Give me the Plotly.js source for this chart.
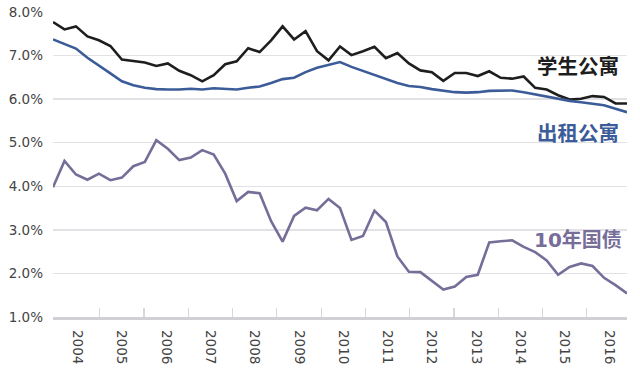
<!DOCTYPE html>
<html>
<head>
<meta charset="utf-8">
<script src="https://cdn.plot.ly/plotly-3.0.1.min.js"></script>
<style>html,body{margin:0;padding:0;background:#fff;}#chart{width:640px;height:373px;}</style>
</head>
<body>
<div id="chart"></div>
<script>
// Year tick labels
const years = ['2004','2005','2006','2007','2008','2009','2010','2011','2012','2013','2014','2015','2016'];
// Series names
const seriesNames = ['学生公寓', '出租公寓', '10年国债'];
// 学生公寓 (student housing yield, %)
const studentHousing = [7.77,7.60,7.67,7.44,7.35,7.22,6.91,6.88,6.84,6.76,6.82,6.65,6.55,6.41,6.55,6.80,6.87,7.17,7.08,7.35,7.67,7.37,7.56,7.10,6.89,7.21,7.01,7.10,7.20,6.94,7.06,6.82,6.66,6.62,6.42,6.60,6.60,6.53,6.64,6.49,6.47,6.52,6.26,6.22,6.09,5.99,6.01,6.07,6.05,5.90,5.90];
// 出租公寓 (rental apartment yield, %)
const rentalApartments = [7.37,7.27,7.16,6.95,6.78,6.59,6.41,6.32,6.26,6.23,6.22,6.22,6.24,6.22,6.25,6.24,6.22,6.26,6.29,6.37,6.46,6.49,6.62,6.72,6.78,6.85,6.74,6.65,6.55,6.46,6.37,6.30,6.28,6.23,6.20,6.16,6.15,6.16,6.19,6.20,6.20,6.16,6.11,6.07,6.01,5.96,5.93,5.90,5.86,5.78,5.70];
// 10年国债 (10-year treasury yield, %)
const treasury10y = [3.98,4.58,4.27,4.15,4.29,4.14,4.20,4.46,4.56,5.06,4.86,4.60,4.66,4.83,4.73,4.29,3.66,3.87,3.84,3.20,2.73,3.32,3.51,3.45,3.71,3.50,2.77,2.86,3.44,3.18,2.39,2.04,2.03,1.84,1.63,1.70,1.92,1.97,2.71,2.74,2.76,2.61,2.49,2.30,1.97,2.15,2.23,2.17,1.90,1.73,1.54];

const idx = studentHousing.map((_, i) => i);
const firstTick = 4.07, perYear = 3.857;
const boundaryTicks = years.slice(1).map((_, k) => firstTick + k * perYear);
const labelPos = years.map((_, k) => firstTick + (k - 0.5) * perYear);

const colors = ['#1e1e1e', '#3b5c98', '#776d99'];
const series = [studentHousing, rentalApartments, treasury10y];
const axisFont = '"DejaVu Sans", Lato, sans-serif';

const traces = series.map((s, n) => ({
  x: idx, y: s, type: 'scatter', mode: 'lines', name: seriesNames[n],
  line: {color: colors[n], width: 2.6}, hoverinfo: 'skip'
}));
// invisible trace on second x axis for the year labels
traces.push({x: [0, 50], y: [1, 1], xaxis: 'x2', mode: 'lines', line: {width: 0}, showlegend: false, hoverinfo: 'skip'});

const layout = {
  width: 640, height: 373,
  margin: {l: 53, r: 13, t: 12, b: 56},
  paper_bgcolor: '#fff', plot_bgcolor: '#fff',
  showlegend: false,
  font: {family: axisFont, color: '#444'},
  xaxis: {
    range: [0, 50], showgrid: false, zeroline: false,
    showline: true, linecolor: '#d0d0d4', linewidth: 3,
    tickmode: 'array', tickvals: boundaryTicks, ticktext: boundaryTicks.map(() => ''),
    ticks: 'inside', ticklen: 9, tickcolor: '#d8d8dc', tickwidth: 1.2,
    showticklabels: false, fixedrange: true
  },
  xaxis2: {
    overlaying: 'x', matches: 'x', range: [0, 50], side: 'bottom',
    showgrid: false, zeroline: false, showline: false,
    tickmode: 'array', tickvals: labelPos, ticktext: years,
    ticks: '', tickangle: 90, ticklabelstandoff: 12,
    tickfont: {size: 13.5, color: '#444', family: axisFont}
  },
  yaxis: {
    range: [1, 8], dtick: 1, tick0: 1, tickformat: '.1f', ticksuffix: '%',
    showgrid: true, gridcolor: '#e2e2e6', gridwidth: 1.3,
    zeroline: false, showline: false, ticks: '', ticklabelstandoff: 9,
    tickfont: {size: 13.5, color: '#444', family: axisFont}
  },
  annotations: [
    {text: '<b>学生公寓</b>', xref: 'paper', yref: 'y', x: 0.99, y: 6.78, xanchor: 'right', yanchor: 'middle', showarrow: false,
     font: {family: '"Noto Sans CJK SC", sans-serif', size: 20.5, color: '#1e1e1e'}},
    {text: '<b>出租公寓</b>', xref: 'paper', yref: 'y', x: 0.99, y: 5.25, xanchor: 'right', yanchor: 'middle', showarrow: false,
     font: {family: '"Noto Sans CJK SC", sans-serif', size: 20.5, color: '#3b5c98'}},
    {text: '<b>10年国债</b>', xref: 'paper', yref: 'y', x: 0.995, y: 2.76, xanchor: 'right', yanchor: 'middle', showarrow: false,
     font: {family: '"DejaVu Sans", "Noto Sans CJK SC", sans-serif', size: 20, color: '#776d99'}}
  ]
};

Plotly.newPlot('chart', traces, layout, {staticPlot: true, displayModeBar: false});
</script>
</body>
</html>
